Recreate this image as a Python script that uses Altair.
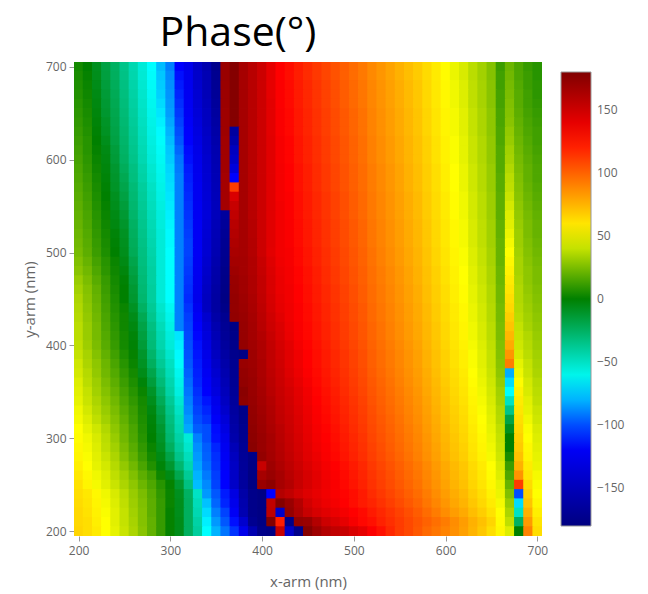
import altair as alt
import pandas as pd

x_arm = list(range(200, 710, 10))
y_arm = list(range(700, 190, -10))
tick_values = [200, 300, 400, 500, 600, 700]
legend_values = [-150, -100, -50, 0, 50, 100, 150]
color_domain = [-180, -115, -65, 0, 52, 130, 180]
color_range = ["#000080", "#0000ff", "#00ffff", "#008000", "#ffff00", "#ff0000", "#800000"]

p700 = [4,0,-8,-17,-25,-35,-45,-55,-65,-78,-90,-115,-125,-143,-156,-174,170,178,165,158,150,140,130,126,121,117,113,109,105,101,97,93,88,84,80,76,72,68,63,58,53,48,44,38,33,27,12,22,16,11,8]
p690 = [5,1,-7,-16,-24,-34,-44,-54,-64,-76,-88,-112,-124,-142,-154,-172,170,178,165,158,150,140,130,126,121,117,113,109,105,101,97,93,88,84,80,76,72,68,63,58,53,48,44,38,33,27,13,23,16,12,8]
p680 = [6,2,-6,-15,-23,-33,-43,-53,-63,-75,-87,-110,-123,-140,-153,-170,170,178,165,158,150,140,131,127,122,118,114,110,106,102,98,94,89,85,81,77,73,69,64,59,54,49,45,39,34,28,13,24,17,12,9]
p670 = [7,3,-5,-14,-22,-32,-42,-52,-62,-74,-86,-108,-122,-138,-152,-168,169,178,165,158,150,140,131,127,122,118,114,110,106,102,98,94,89,85,81,77,73,69,64,59,54,49,45,39,34,28,14,25,18,13,9]
p660 = [8,4,-4,-13,-21,-31,-41,-51,-61,-72,-85,-106,-121,-137,-150,-166,169,178,165,158,150,141,131,127,122,118,114,110,106,102,98,94,89,85,81,77,73,69,64,59,54,49,45,39,34,28,14,26,18,13,10]
p650 = [9,5,-3,-12,-20,-30,-40,-50,-60,-70,-84,-104,-120,-135,-148,-164,168,178,165,158,150,141,132,128,123,119,115,111,107,103,99,95,90,86,82,78,74,70,65,60,55,50,46,40,35,29,15,27,19,14,11]
p640 = [10,6,-2,-10,-19,-29,-39,-49,-59,-68,-82,-102,-118,-133,-147,-162,168,178,165,158,150,141,132,128,123,119,115,111,107,103,99,95,90,86,82,78,74,70,65,60,55,50,46,40,35,29,15,28,20,15,12]
p630 = [11,7,-1,-9,-18,-28,-38,-48,-58,-66,-80,-100,-116,-131,-145,-160,168,-164,165,158,150,141,132,128,123,119,115,111,107,103,99,95,90,86,82,78,74,70,65,60,55,50,46,40,35,29,16,30,21,16,13]
p620 = [12,8,0,-7,-17,-27,-37,-47,-57,-64,-78,-98,-115,-129,-143,-158,167,-158,165,158,150,142,133,129,124,120,116,112,108,104,100,96,91,87,83,79,75,71,66,61,56,51,47,41,36,30,16,31,22,17,13]
p610 = [13,8,1,-5,-15,-26,-36,-46,-56,-63,-76,-95,-113,-127,-142,-156,167,-148,165,158,150,142,133,129,124,120,116,112,108,104,100,96,91,87,83,79,75,71,66,61,56,51,47,41,36,30,17,33,23,18,14]
p600 = [14,9,2,-4,-14,-25,-35,-45,-55,-62,-75,-92,-112,-125,-140,-155,167,-143,165,158,150,142,133,129,124,120,116,112,108,104,100,96,91,87,83,79,75,71,66,61,56,51,47,41,36,30,17,34,24,19,15]
p590 = [15,10,3,-3,-12,-23,-33,-43,-53,-61,-73,-91,-110,-124,-139,-154,167,-133,165,158,150,142,134,130,125,121,117,113,109,105,101,97,92,88,84,80,76,72,67,62,57,52,48,42,37,31,17,36,25,20,16]
p580 = [16,11,4,-2,-11,-21,-32,-42,-52,-60,-72,-90,-109,-123,-138,-153,166,-115,165,158,150,142,134,130,125,121,117,113,109,105,101,97,92,88,84,80,76,72,67,62,57,52,48,42,37,31,18,38,26,20,16]
p570 = [17,12,5,-1,-10,-19,-30,-40,-50,-59,-71,-90,-108,-122,-137,-152,166,112,165,158,150,142,134,130,125,121,117,113,109,105,101,97,92,88,84,80,76,72,67,62,57,52,48,42,37,31,18,39,27,21,17]
p560 = [18,13,6,0,-8,-17,-29,-39,-49,-58,-70,-90,-107,-122,-136,-151,166,145,165,158,150,142,134,131,126,122,118,114,110,106,102,98,93,89,85,81,77,73,68,63,58,53,49,43,38,32,19,41,28,22,18]
p550 = [19,14,7,1,-7,-15,-28,-38,-48,-57,-69,-90,-106,-121,-135,-150,166,152,165,158,150,142,135,131,126,122,118,114,110,106,102,98,93,89,85,81,77,73,68,63,58,53,49,43,38,32,19,43,29,23,19]
p540 = [20,15,8,2,-5,-13,-27,-37,-47,-56,-68,-90,-105,-121,-134,-150,-165,155,165,158,150,142,135,131,126,122,118,114,110,106,102,98,93,89,85,81,77,73,68,63,58,53,49,43,38,32,19,45,30,24,20]
p530 = [21,16,9,3,-4,-11,-25,-36,-46,-56,-67,-90,-104,-120,-136,-152,-167,158,165,159,150,142,135,132,127,123,119,115,111,107,103,99,94,90,86,82,78,74,69,64,59,54,50,44,39,33,20,46,31,25,21]
p520 = [22,17,10,4,-2,-9,-24,-35,-45,-55,-66,-90,-103,-120,-137,-153,-169,160,165,159,150,142,135,132,127,123,119,115,111,107,103,99,94,90,86,82,78,74,69,64,59,54,50,44,39,33,20,48,32,25,21]
p510 = [23,18,11,5,-1,-8,-23,-34,-44,-55,-66,-90,-102,-120,-138,-154,-171,162,165,160,150,142,135,132,127,123,119,115,111,107,103,99,94,90,86,82,78,74,69,64,59,54,50,44,39,33,21,50,32,26,22]
p500 = [24,19,12,6,0,-7,-22,-33,-43,-55,-65,-90,-102,-120,-138,-155,-172,164,165,160,150,141,135,133,128,124,120,116,112,108,104,100,95,91,87,83,79,75,70,65,60,55,51,45,40,34,21,52,33,27,23]
p490 = [26,21,14,8,2,-5,-19,-32,-42,-55,-65,-90,-103,-121,-140,-157,-173,166,166,161,152,143,136,133,128,124,120,116,112,108,104,100,95,91,87,83,79,75,70,65,60,55,51,45,40,34,21,54,34,28,24]
p480 = [28,23,16,9,3,-3,-17,-31,-41,-55,-65,-90,-104,-122,-142,-159,-175,168,166,161,153,144,137,134,129,125,121,117,113,109,105,101,96,92,88,84,80,76,71,66,61,56,52,46,41,35,22,56,34,29,25]
p470 = [31,25,18,11,4,-1,-15,-30,-41,-55,-65,-90,-105,-123,-144,-160,-176,170,167,162,154,145,138,134,129,125,121,117,113,109,105,101,96,92,88,84,80,76,71,66,61,56,52,46,41,35,22,58,35,29,25]
p460 = [33,27,20,12,5,0,-13,-29,-40,-55,-65,-90,-106,-124,-146,-162,-177,171,167,162,154,145,138,135,130,126,122,118,114,110,106,102,97,93,89,85,81,77,72,67,62,57,53,47,42,36,23,60,36,30,26]
p450 = [35,28,21,13,6,0,-12,-28,-40,-55,-65,-90,-107,-125,-148,-163,-178,172,168,163,155,146,139,135,130,126,122,118,114,110,106,102,97,93,89,85,81,77,72,67,62,57,53,47,42,36,23,62,36,31,27]
p440 = [36,29,22,14,7,2,-9,-25,-38,-52,-62,-90,-105,-122,-147,-163,-176,172,169,164,156,147,140,136,131,127,123,119,115,111,107,103,98,94,90,86,82,78,73,68,63,58,54,48,43,37,24,64,37,32,28]
p430 = [37,30,23,15,8,3,-6,-21,-36,-50,-60,-90,-103,-119,-140,-160,-172,173,170,165,157,149,142,136,131,127,123,119,115,111,107,103,98,94,90,86,82,78,73,68,63,58,54,48,43,37,24,67,38,33,29]
p420 = [38,31,24,16,9,3,-4,-18,-33,-47,-58,-90,-102,-116,-136,-156,-170,-178,171,166,158,150,144,137,132,128,124,120,116,112,108,104,99,95,91,87,83,79,74,69,64,59,55,49,44,38,25,70,40,34,30]
p410 = [38,31,24,17,10,4,-2,-16,-31,-45,-56,-70,-101,-114,-133,-153,-168,-176,171,166,160,152,145,138,132,128,124,120,116,112,108,104,99,95,91,87,83,79,74,69,64,59,55,49,44,38,25,74,41,36,31]
p400 = [39,32,25,18,11,4,-1,-14,-30,-44,-55,-68,-100,-112,-130,-150,-165,-175,172,167,162,154,147,141,134,129,125,121,117,113,109,105,100,96,92,88,84,80,75,70,65,60,56,50,45,39,26,78,42,37,32]
p390 = [40,34,27,20,13,6,1,-11,-27,-41,-52,-66,-99,-111,-127,-147,-162,-174,-178,168,162,155,148,142,136,130,126,122,118,114,110,106,101,97,93,89,85,81,76,71,66,61,57,51,46,40,27,84,44,38,33]
p380 = [42,35,29,22,15,8,2,-9,-24,-38,-49,-64,-98,-110,-124,-143,-159,-172,170,168,163,155,149,142,136,130,126,122,118,114,110,106,101,97,93,89,85,81,76,71,66,61,57,51,46,40,28,92,47,40,34]
p370 = [43,37,30,23,17,10,4,-6,-19,-34,-47,-61,-96,-109,-121,-139,-156,-171,172,169,163,156,150,143,137,131,127,123,119,115,111,107,102,98,94,90,86,82,77,72,67,62,58,52,47,41,29,-81,49,41,35]
p360 = [45,38,32,25,19,12,6,-2,-15,-30,-44,-59,-94,-108,-118,-135,-153,-170,173,170,164,157,151,145,139,133,128,124,120,116,112,108,103,99,95,91,87,83,78,73,68,63,59,53,48,42,31,-72,53,43,37]
p350 = [46,40,33,27,21,14,8,2,-10,-26,-42,-57,-92,-106,-116,-132,-150,-168,176,170,165,158,152,147,141,135,129,125,121,117,113,109,104,100,96,92,88,84,79,74,69,64,60,54,49,43,33,-65,56,44,38]
p340 = [47,41,35,29,23,16,10,4,-7,-22,-38,-53,-90,-104,-111,-126,-146,-166,175,171,166,160,153,148,142,136,130,126,122,118,114,110,105,101,97,93,89,85,80,75,70,65,61,55,50,44,34,-50,58,46,39]
p330 = [49,43,37,31,25,18,12,5,-4,-18,-35,-50,-88,-102,-108,-122,-141,-164,-176,172,167,161,154,149,143,137,131,127,123,119,115,111,106,102,98,94,90,86,81,76,71,66,62,56,51,45,36,-35,60,47,41]
p320 = [50,45,39,33,27,20,13,6,-2,-15,-32,-47,-85,-100,-105,-118,-135,-162,-175,173,168,162,155,150,144,138,132,128,124,120,116,112,107,103,99,95,91,87,82,77,72,67,63,57,52,46,37,-18,62,49,42]
p310 = [52,47,42,36,29,22,15,7,-1,-12,-30,-45,-82,-97,-100,-113,-130,-160,-173,174,169,163,157,151,145,139,133,129,125,121,117,113,108,104,100,96,92,88,83,78,73,68,64,58,53,47,39,-8,64,51,44]
p300 = [53,49,44,38,31,23,16,8,0,-10,-28,-42,-55,-90,-100,-112,-125,-158,-172,175,170,165,158,152,146,140,134,130,126,122,118,114,109,105,101,97,93,89,84,79,74,69,65,59,54,48,40,0,66,52,45]
p290 = [54,50,45,39,33,25,18,10,2,-8,-24,-39,-52,-87,-97,-108,-122,-152,-170,176,170,165,159,153,147,141,135,131,127,123,119,115,110,106,102,98,94,90,85,80,75,70,66,60,55,49,41,0,68,54,46]
p280 = [55,51,46,41,35,27,20,12,4,-5,-18,-35,-48,-85,-96,-106,-120,-148,-168,-176,172,166,160,154,148,142,137,132,128,124,120,116,111,107,103,99,95,91,86,81,76,71,67,61,56,50,42,5,71,55,47]
p270 = [57,52,47,43,37,30,23,15,7,-2,-12,-28,-44,-83,-94,-105,-118,-145,-167,-177,152,168,162,156,150,144,139,134,130,126,122,118,113,109,105,101,97,93,88,83,78,73,69,63,58,52,44,12,76,58,48]
p260 = [59,54,49,45,39,33,26,19,13,3,-5,-20,-38,-80,-91,-103,-116,-144,-166,-178,165,170,165,158,152,146,141,135,131,127,123,119,114,110,106,102,98,94,89,84,79,74,70,64,59,53,45,16,85,60,50]
p250 = [61,55,50,46,41,35,29,22,16,8,1,-12,-33,-78,-88,-102,-115,-143,-165,-178,170,175,165,160,152,146,141,136,132,128,124,120,115,111,107,103,99,95,90,85,80,75,71,65,60,54,47,21,112,63,51]
p240 = [62,59,54,49,44,38,31,25,18,10,2,-8,-25,-50,-85,-98,-110,-130,-160,-175,-178,-115,160,155,148,143,139,135,132,129,126,122,117,113,109,105,101,97,92,87,82,77,73,67,62,56,48,26,-100,66,52]
p230 = [63,60,55,50,45,39,32,26,19,11,2,-7,-24,-47,-77,-95,-108,-125,-157,-175,-178,155,179,170,160,148,142,137,134,130,126,122,119,115,111,107,103,99,94,89,84,79,75,69,64,58,50,31,-72,70,54]
p220 = [64,61,56,51,46,40,33,27,19,11,1,-7,-24,-45,-72,-90,-102,-120,-155,-175,-178,156,-143,172,162,152,146,142,138,134,130,127,122,118,114,110,106,102,97,92,87,82,78,72,67,61,52,35,-50,76,57]
p210 = [64,62,57,52,46,40,34,27,20,11,1,-6,-24,-42,-68,-85,-98,-112,-140,-172,-178,179,121,-176,172,170,160,150,145,140,133,128,125,120,116,112,108,104,100,96,92,87,82,76,71,65,53,39,-25,83,60]
p200 = [65,62,58,52,47,41,35,28,20,11,1,-6,-24,-40,-65,-80,-92,-105,-125,-155,-175,-178,152,-143,-175,178,168,160,155,152,145,140,131,125,118,112,108,103,98,94,90,86,81,75,69,62,54,45,0,90,62]

phase_rows = [p700,p690,p680,p670,p660,p650,p640,p630,p620,p610,p600,p590,p580,p570,p560,p550,p540,p530,p520,p510,
              p500,p490,p480,p470,p460,p450,p440,p430,p420,p410,p400,p390,p380,p370,p360,p350,p340,p330,p320,p310,
              p300,p290,p280,p270,p260,p250,p240,p230,p220,p210,p200]

# half a cell, plus a hair of overlap so no seam shows between neighbouring cells
half = 5.45
records = []
for y, row in zip(y_arm, phase_rows):
    for x, v in zip(x_arm, row):
        records.append({"x0": x - half, "x1": x + half, "y0": y - half, "y1": y + half, "phase": v})
df = pd.DataFrame(records)

FONT = "Open Sans"
TEXT = "#666666"
phase_scale = alt.Scale(domain=color_domain, range=color_range, interpolate="rgb")

chart = (
    alt.Chart(df)
    .mark_rect(clip=True)
    .encode(
        x=alt.X("x0:Q", scale=alt.Scale(domain=[195, 705], nice=False, zero=False),
                axis=alt.Axis(values=tick_values, title="x-arm (nm)", grid=False, domain=False,
                              tickColor="#999999", tickSize=5, labelFont=FONT, labelFontSize=12,
                              labelColor=TEXT, titleFont=FONT, titleFontSize=15, titleFontWeight="normal",
                              titleColor=TEXT, labelPadding=4, titlePadding=18, format="d")),
        x2="x1:Q",
        y=alt.Y("y0:Q", scale=alt.Scale(domain=[195, 705], nice=False, zero=False),
                axis=alt.Axis(values=tick_values, title="y-arm (nm)", grid=False, domain=False,
                              tickColor="#999999", tickSize=5, labelFont=FONT, labelFontSize=12,
                              labelColor=TEXT, titleFont=FONT, titleFontSize=15, titleFontWeight="normal",
                              titleColor=TEXT, labelPadding=3, titlePadding=8, format="d")),
        y2="y1:Q",
        color=alt.Color("phase:Q", scale=phase_scale,
                        legend=alt.Legend(type="gradient", title=None, orient="none", legendX=487, legendY=10,
                                          direction="vertical", gradientLength=454, gradientThickness=30,
                                          gradientStrokeColor="#999999", gradientStrokeWidth=1,
                                          values=legend_values, labelFont=FONT, labelFontSize=12,
                                          labelColor=TEXT, labelOffset=6, labelOverlap=False, format="d")),
    )
    .properties(
        width=468, height=474,
        padding={"left": 66, "top": 54, "right": 98, "bottom": 54},
        autosize=alt.AutoSizeParams(type="none"),
        title=alt.TitleParams("Phase(°)", font="Open Sans", fontSize=41, fontWeight="normal", color="#000000",
                              anchor="middle", dx=-70, dy=2, offset=8),
    )
    .configure_view(stroke=None)
)

chart.save("out.html", embed_options={"renderer": "svg", "actions": False})
